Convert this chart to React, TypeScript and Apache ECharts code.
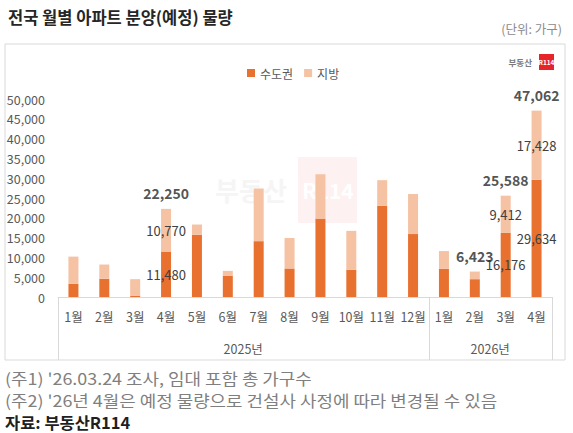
import React, { useEffect, useRef } from "react";
import * as echarts from "echarts";

const FONT = '"Noto Sans CJK KR", "Noto Sans", sans-serif';

const categories = ["1월", "2월", "3월", "4월", "5월", "6월", "7월", "8월", "9월", "10월", "11월", "12월", "1월", "2월", "3월", "4월"];
const metro = [3300, 4600, 350, 11480, 15700, 5400, 14100, 7200, 19800, 6900, 23000, 15900, 7100, 4500, 16176, 29634];
const local = [6900, 3600, 4150, 10770, 2600, 1200, 13300, 7700, 11200, 9800, 6500, 10100, 4500, 1923, 9412, 17428];
const innerLabelIdx = [3, 14, 15];
const totalLabelIdx = [3, 13, 14, 15];
const yearLabels = ["2025년", "2026년"];
const yearSpans = [12, 4];
const yTicks = { min: 0, max: 50000, interval: 5000 };

const DARK = "#E8712F";
const LIGHT = "#F5C2A3";
const fmt = (v: number) => Number(v).toLocaleString("en-US");

export default function App() {
  const ref = useRef<HTMLDivElement>(null);
  useEffect(() => {
    document.body.style.margin = "0";
    const chart = echarts.init(ref.current!, null, { renderer: "svg" });
    const totals = metro.map((m, i) => m + local[i]);
    const option: any = {
      animation: false,
      textStyle: { fontFamily: FONT },
      grid: { left: 58, right: 21, top: 99, bottom: 136, outerBoundsMode: "none" },
      legend: {
        data: ["수도권", "지방"],
        left: 242,
        top: 62,
        icon: "rect",
        itemWidth: 8,
        itemHeight: 8,
        itemGap: 11,
        textStyle: { fontSize: 12, color: "#595959", fontFamily: FONT },
      },
      xAxis: {
        type: "category",
        data: categories,
        axisLine: { lineStyle: { color: "#d9d9d9" } },
        axisTick: { show: false },
        axisLabel: { interval: 0, margin: 13, fontSize: 12.5, color: "#595959" },
      },
      yAxis: {
        type: "value",
        min: yTicks.min,
        max: yTicks.max,
        interval: yTicks.interval,
        axisLine: { show: false },
        axisTick: { show: false },
        splitLine: { show: false },
        axisLabel: { margin: 13, fontSize: 12.5, color: "#595959", formatter: (v: number) => fmt(v) },
      },
      series: [
        {
          name: "수도권",
          type: "bar",
          stack: "t",
          barWidth: 10,
          itemStyle: { color: DARK },
          label: { position: "inside", color: "#404040", fontSize: 13, textBorderWidth: 0, formatter: (p: any) => fmt(p.value) },
          data: metro.map((v, i) => ({ value: v, label: { show: innerLabelIdx.includes(i) } })),
        },
        {
          name: "지방",
          type: "bar",
          stack: "t",
          barWidth: 10,
          itemStyle: { color: LIGHT },
          label: { position: "inside", color: "#404040", fontSize: 13, textBorderWidth: 0, formatter: (p: any) => fmt(p.value) },
          data: local.map((v, i) => ({ value: v, label: { show: innerLabelIdx.includes(i) } })),
        },
        {
          name: "합계",
          type: "scatter",
          symbolSize: 0,
          silent: true,
          z: 5,
          label: { show: true, position: "top", distance: 9, fontSize: 14, fontWeight: "bold", color: "#262626", formatter: (p: any) => fmt(p.value) },
          data: totals.map((t, i) => (totalLabelIdx.includes(i) ? t : "-")),
        },
      ],
    };
    chart.setOption(option);

    const c0 = chart.convertToPixel({ xAxisIndex: 0 }, 0) as number;
    const c1 = chart.convertToPixel({ xAxisIndex: 0 }, 1) as number;
    const cw = c1 - c0;
    const y0 = chart.convertToPixel({ yAxisIndex: 0 }, 0) as number;
    const frame = { x: 5, y: 44, w: 560, h: 316 };
    const bottom = frame.y + frame.h;
    const bound = (i: number) => c0 - cw / 2 + i * cw;

    const g: any[] = [];
    // watermark
    g.push({ type: "text", z: 0, style: { x: 251, y: 189, text: "부동산", fill: "#f5f5f5", font: `bold 26px ${FONT}`, align: "center", verticalAlign: "middle" } });
    g.push({ type: "rect", z: 0, shape: { x: 298, y: 157, width: 59, height: 66 }, style: { fill: "#fdf1f1" } });
    g.push({ type: "text", z: 0, style: { x: 328, y: 190, text: "R114", fill: "#ffffff", font: `bold 21px ${FONT}`, align: "center", verticalAlign: "middle" } });
    // frame
    g.push({ type: "rect", z: 1, shape: { x: frame.x, y: frame.y, width: frame.w, height: frame.h }, style: { fill: "none", stroke: "#d9d9d9", lineWidth: 1 } });
    // title
    g.push({ type: "text", style: { x: 8, y: 17, text: "전국 월별 아파트 분양(예정) 물량", fill: "#262626", font: `bold 16.5px ${FONT}`, verticalAlign: "middle" } });
    g.push({ type: "text", style: { x: 562, y: 28, text: "(단위: 가구)", fill: "#8c8c8c", font: `12.5px ${FONT}`, align: "right", verticalAlign: "middle" } });
    // logo
    g.push({ type: "text", style: { x: 532, y: 62, text: "부동산", fill: "#7a7a7a", font: `bold 8.5px ${FONT}`, align: "right", verticalAlign: "middle" } });
    g.push({ type: "rect", shape: { x: 539, y: 54, width: 15, height: 16 }, style: { fill: "#e8242b" } });
    g.push({ type: "text", style: { x: 546.5, y: 62, text: "R114", fill: "#ffffff", font: `bold 6.5px ${FONT}`, align: "center", verticalAlign: "middle" } });
    // year separators & labels
    let acc = 0;
    const bIdx = [0];
    yearSpans.forEach((s) => { acc += s; bIdx.push(acc); });
    bIdx.forEach((i) => {
      const x = Math.round(bound(i)) + 0.5;
      g.push({ type: "line", shape: { x1: x, y1: y0, x2: x, y2: bottom }, style: { stroke: "#d9d9d9", lineWidth: 1 } });
    });
    yearLabels.forEach((lab, k) => {
      const xm = (bound(bIdx[k]) + bound(bIdx[k + 1])) / 2;
      g.push({ type: "text", style: { x: xm, y: 348, text: lab, fill: "#595959", font: `12.5px ${FONT}`, align: "center", verticalAlign: "middle" } });
    });
    // footnotes
    const note = (text: string, y: number, color: string, weight: string, sx: number) =>
      g.push({ type: "text", x: 5, y, scaleX: sx, style: { x: 0, y: 0, text, fill: color, font: `${weight} 16px ${FONT}`, verticalAlign: "middle" } });
    note("(주1) '26.03.24 조사, 임대 포함 총 가구수", 378, "#7f7f7f", "normal", 1.12);
    note("(주2) '26년 4월은 예정 물량으로 건설사 사정에 따라 변경될 수 있음", 400, "#7f7f7f", "normal", 1.12);
    note("자료: 부동산R114", 422, "#1f1f1f", "bold", 1.03);

    chart.setOption({ graphic: { elements: g } });
    return () => chart.dispose();
  }, []);
  return <div ref={ref} style={{ width: 573, height: 433 }} />;
}
